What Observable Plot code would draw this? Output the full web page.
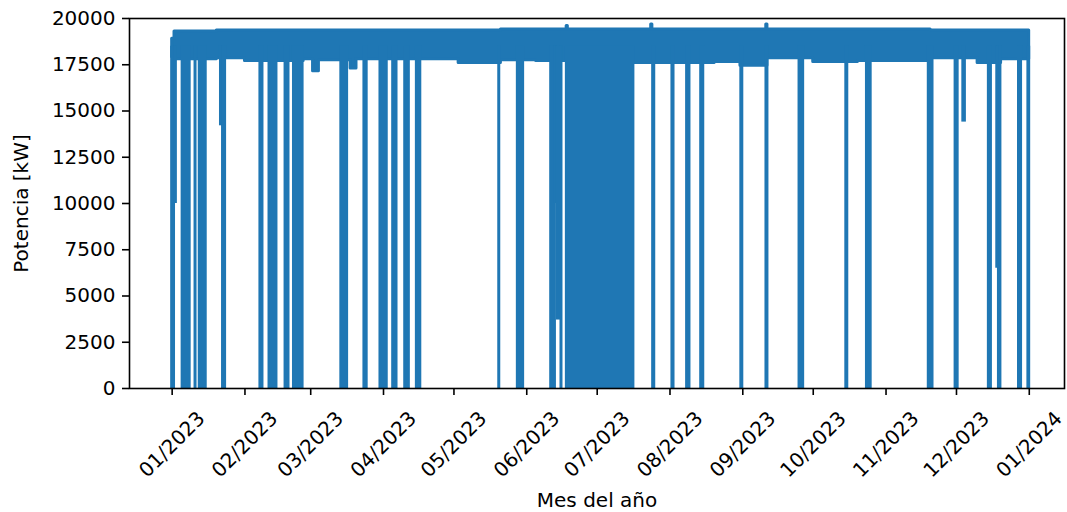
<!DOCTYPE html>
<html>
<head>
<meta charset="utf-8">
<script src="https://cdn.jsdelivr.net/npm/d3@7"></script>
<script src="https://cdn.jsdelivr.net/npm/@observablehq/plot@0.6"></script>
<style>
  body { margin: 0; background: #fff; }
  #chart svg { display: block; }
</style>
</head>
<body>
<div id="chart"></div>
<script>
// ---- Data ----
const yLabel = "Potencia [kW]";
const xLabel = "Mes del año";
const yTicks = [0, 2500, 5000, 7500, 10000, 12500, 15000, 17500, 20000];
const xTickDates = ["2023-01-01","2023-02-01","2023-03-01","2023-04-01","2023-05-01","2023-06-01",
  "2023-07-01","2023-08-01","2023-09-01","2023-10-01","2023-11-01","2023-12-01","2024-01-01"];

// Envelope of the dense normal-operation band (step-after segments)
const bandDate = ["2023-01-01T00:00","2023-01-02T00:00","2023-01-20T00:00","2023-02-01T00:00","2023-02-26T00:00",
  "2023-03-02T00:00","2023-03-04T12:00","2023-03-08T00:00","2023-03-18T00:00","2023-03-20T12:00",
  "2023-04-20T00:00","2023-05-03T00:00","2023-05-21T00:00","2023-06-05T00:00","2023-06-18T00:00",
  "2023-06-18T12:00","2023-07-16T00:00","2023-07-24T00:00","2023-07-24T12:00","2023-08-20T00:00",
  "2023-08-31T00:00","2023-09-11T00:00","2023-09-11T12:00","2023-09-12T00:00","2023-10-01T00:00",
  "2023-10-20T00:00","2023-11-20T00:00","2023-12-10T00:00","2023-12-20T00:00","2023-12-31T23:00"];
const bandLow  = [17900,17800,17850,17700,17800,
  17150,17750,17750,17300,17800,
  17800,17600,17750,17700,17750,
  17750,17600,17600,17600,17650,
  17450,17450,17850,17850,17650,
  17700,17850,17600,17800,17800];
const bandHigh = [18900,19300,19350,19350,19350,
  19350,19350,19350,19350,19350,
  19350,19350,19400,19400,19600,
  19400,19400,19680,19400,19400,
  19400,19680,19400,19400,19400,
  19400,19350,19350,19350,19350];

// Outages down to 0 kW (start, end)
const outStart = ["2023-01-01T00:00","2023-01-05T11:00","2023-01-10T23:00","2023-01-12T18:00","2023-01-22T16:00",
  "2023-02-07T14:00","2023-02-11T11:00","2023-02-18T07:00","2023-02-21T21:00","2023-03-14T01:00",
  "2023-03-23T21:00","2023-03-30T17:00","2023-04-05T03:00","2023-04-10T06:00","2023-04-15T05:00",
  "2023-05-20T07:00","2023-05-28T05:00","2023-06-11T10:00","2023-06-15T19:00","2023-06-18T02:00",
  "2023-07-24T20:00","2023-08-02T01:00","2023-08-08T07:00","2023-08-14T07:00","2023-08-31T09:00",
  "2023-09-11T02:00","2023-09-25T04:00","2023-10-15T02:00","2023-10-23T21:00","2023-11-19T05:00",
  "2023-11-30T15:00","2023-12-14T19:00","2023-12-19T02:00","2023-12-27T15:00","2023-12-31T15:00"];
const outEnd = ["2023-01-01T19:00","2023-01-08T11:00","2023-01-10T23:00","2023-01-15T07:00","2023-01-23T13:00",
  "2023-02-08T11:00","2023-02-14T10:00","2023-02-19T13:00","2023-02-25T13:00","2023-03-16T12:00",
  "2023-03-24T20:00","2023-04-02T09:00","2023-04-06T13:00","2023-04-11T19:00","2023-04-16T16:00",
  "2023-05-20T07:00","2023-05-30T11:00","2023-06-13T00:00","2023-06-15T19:00","2023-07-16T10:00",
  "2023-07-25T07:00","2023-08-02T12:00","2023-08-09T07:00","2023-08-15T04:00","2023-08-31T19:00",
  "2023-09-11T12:00","2023-09-26T17:00","2023-10-15T12:00","2023-10-25T11:00","2023-11-20T19:00",
  "2023-12-01T12:00","2023-12-15T16:00","2023-12-19T17:00","2023-12-28T12:00","2023-12-31T23:00"];

// Partial drops (start, end, lowest power)
const dipStart = ["2023-01-02T14:00","2023-01-21T19:00","2023-06-13T05:00","2023-06-14T07:00","2023-12-03T22:00","2023-12-18T09:00"];
const dipEnd   = ["2023-01-02T14:00","2023-01-21T19:00","2023-06-13T05:00","2023-06-15T07:00","2023-12-04T14:00","2023-12-18T09:00"];
const dipLevel = [10000, 14200, 10000, 3700, 14400, 6500];

const bandTop = 18500;   // level where outage bars join the band
const C0 = "#1f77b4";

// ---- Build tables ----
const T = s => new Date(s + "Z");
const band = bandDate.map((d, i) => ({date: T(d), low: bandLow[i], high: bandHigh[i]}));
const outs = outStart.map((d, i) => ({x1: T(d), x2: T(outEnd[i]), y1: 0, y2: bandTop}));
const dips = dipStart.map((d, i) => ({x1: T(d), x2: T(dipEnd[i]), y1: dipLevel[i], y2: bandTop}));
const xTicks = xTickDates.map(d => new Date(d + "T00:00Z"));

const chart = Plot.plot({
  width: 1067,
  height: 512,
  marginLeft: 129,
  marginRight: 3,
  marginTop: 18,
  marginBottom: 124,
  style: {fontFamily: "'DejaVu Sans', sans-serif", fontSize: "20px", color: "black", background: "white"},
  x: {type: "utc", domain: [new Date("2022-12-13T20:00Z"), new Date("2024-01-16T00:00Z")]},
  y: {domain: [0, 20000]},
  marks: [
    Plot.areaY(band, {x: "date", y1: "low", y2: "high", curve: "step-after", fill: C0, stroke: C0, strokeWidth: 3}),
    Plot.rect(outs, {x1: "x1", x2: "x2", y1: "y1", y2: "y2", fill: C0, insetLeft: -1.5, insetRight: -1.5}),
    Plot.rect(dips, {x1: "x1", x2: "x2", y1: "y1", y2: "y2", fill: C0, insetLeft: -1.5, insetRight: -1.5}),
    Plot.frame({stroke: "black", strokeWidth: 1.6}),
    Plot.axisY({ticks: yTicks, tickFormat: d => String(d), tickSize: 7, tickPadding: 7, label: null,
      fontSize: 20, strokeWidth: 1.6}),
    Plot.axisX({ticks: xTicks, tickFormat: d3.utcFormat("%m/%Y"), tickSize: 7, tickPadding: 49,
      tickRotate: -45, textAnchor: "middle", lineAnchor: "middle", label: null, fontSize: 20, strokeWidth: 1.6}),
    Plot.text([yLabel], {text: d => d, frameAnchor: "left", dx: -108, rotate: -90, fontSize: 20,
      textAnchor: "middle", lineAnchor: "middle", fill: "black"}),
    Plot.text([xLabel], {text: d => d, frameAnchor: "bottom", dy: 112, fontSize: 20,
      textAnchor: "middle", lineAnchor: "middle", fill: "black"})
  ]
});
document.getElementById("chart").appendChild(chart);
</script>
</body>
</html>
